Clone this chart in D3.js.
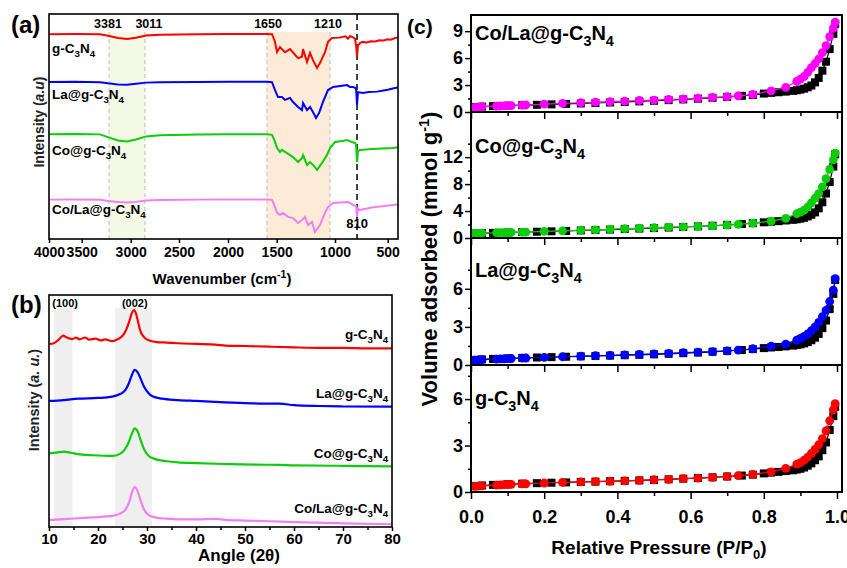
<!DOCTYPE html>
<html>
<head>
<meta charset="utf-8">
<script src="https://cdn.jsdelivr.net/npm/d3@7"></script>
<style>
body { margin: 0; background: #fff; }
svg { font-family: "Liberation Sans", Arial, sans-serif; font-weight: bold; }
</style>
</head>
<body>
<div id="chart"></div>
<script>
// ---------- (a) FTIR ----------
let irSamples = ["g-C3N4", "La@g-C3N4", "Co@g-C3N4", "Co/La@g-C3N4"];
let irTicks = [4000, 3500, 3000, 2500, 2000, 1500, 1000, 500];
let irRed = [[4000,91],[3600,91.1],[3313,91],[3232,90.3],[3130,89.3],[3038,88.9],[2945,89.4],[2842,90.4],[2697,90.8],[2300,91],[2000,91.1],[1600,91.1],[1548,91],[1520,88],[1497,83.1],[1472,85.3],[1429,83],[1386,84.4],[1317,80.4],[1283,81],[1274,84.4],[1240,78.7],[1214,82.7],[1189,79.5],[1154,76],[1129,78.2],[1086,83],[1060,87.6],[1026,89.3],[960,89.5],[900,90.1],[877,89],[858,90.2],[829,89.6],[810,89],[800,86],[791,81],[782,86],[763,87.1],[740,87.6],[700,87.3],[660,87.9],[620,87.8],[580,88.3],[540,88.2],[500,88.8],[470,88.6],[429,89.3],[400,89.6]];
let irBlue = [[4000,69.8],[3600,69.9],[3313,69.7],[3232,69.2],[3130,68.7],[3038,68.6],[2945,69],[2842,69.5],[2697,69.7],[2300,69.8],[2000,69.9],[1600,69.9],[1548,69.7],[1520,66.5],[1489,63.1],[1455,63.1],[1429,61.8],[1386,62.7],[1360,60.9],[1317,58.7],[1283,57.3],[1274,60.4],[1240,57.3],[1214,58.7],[1189,56.4],[1163,53.8],[1137,56],[1103,60.9],[1060,66.2],[1017,67.6],[950,68],[886,68.4],[858,67.6],[829,67.6],[800,67],[791,59.6],[782,65.3],[734,64.9],[680,65.3],[600,65.5],[540,66],[500,66.3],[429,67.1],[400,67.3]];
let irGreen = [[4000,46.6],[3600,46.7],[3313,46.5],[3232,45.3],[3130,43.8],[3038,43.3],[2945,44.2],[2842,45.6],[2697,46.1],[2300,46.4],[2000,46.6],[1600,46.6],[1548,46.3],[1520,43.5],[1497,40.4],[1472,38.7],[1455,39.6],[1412,38.2],[1386,37.3],[1360,36.4],[1317,34.2],[1283,36],[1274,37.3],[1240,32.9],[1214,34.2],[1189,32.9],[1154,30.7],[1111,33.8],[1069,37.3],[1043,40.4],[1000,43.1],[930,43.6],[886,44],[860,43.5],[839,43.1],[810,42.7],[800,42],[791,34.2],[782,39],[763,39.6],[650,40],[550,40.2],[449,40.4],[400,40.8]];
let irPink = [[4000,17.5],[3600,17.6],[3313,17.4],[3232,16.9],[3130,16.4],[3038,16.2],[2945,16.5],[2842,17.1],[2697,17.3],[2300,17.5],[2000,17.6],[1600,17.6],[1548,17.4],[1520,14.5],[1497,11.6],[1472,10.7],[1446,11.6],[1403,9.8],[1360,9.3],[1317,7.1],[1283,8.4],[1257,9.8],[1232,6.2],[1197,7.6],[1172,3.1],[1129,6.2],[1086,11.6],[1060,14.2],[1017,16],[950,16.2],[877,16.4],[850,15.8],[829,15.1],[800,14.8],[791,9.8],[782,13.5],[763,12.9],[650,14],[550,14.6],[449,15.1],[400,15.4]];
let irBands = [[3221, 2852], [1600, 1043]];
let irBandTop = 92;
let irBandText = ["3381", "3011", "1650", "1210"];
let irBandTextAt = [3232, 2811, 1589, 1060];
let irMarker = 791;
let irMarkerText = "810";
let irLabelLevel = [82.7, 62.2, 37.3, 11.1];

// ---------- (b) XRD ----------
let xrdSamples = ["g-C3N4", "La@g-C3N4", "Co@g-C3N4", "Co/La@g-C3N4"];
let xrdTicks = [10, 20, 30, 40, 50, 60, 70, 80];
let xrdMinor = [15, 25, 35, 45, 55, 65, 75];
let xrdRed = [[10,79.6],[11,79.9],[12,81.5],[12.9,83.2],[13.6,82.4],[14.7,81.7],[15.5,82.3],[16.3,81.6],[17.3,82.4],[18.2,81.5],[19.5,81.9],[20.5,81.1],[21.5,81.6],[22.9,80.8],[23.8,81.4],[24.5,82.2],[25.3,84],[25.9,86.5],[26.4,89.5],[26.9,93],[27.35,94.3],[27.8,92.5],[28.2,89],[28.6,85.5],[29.3,82.8],[30.2,81.3],[32,80.4],[34,80.2],[36.3,79.9],[40,79.6],[44,79.3],[46,78.9],[50,78.7],[55,78.4],[60,78.1],[65,77.9],[70,77.9],[75,77.7],[80,77.7]];
let xrdBlue = [[10,54.8],[13,55.2],[16,55.8],[20,56.1],[22.9,56.7],[24.5,57.8],[25.6,59.6],[26.3,62.5],[26.9,66],[27.5,68.3],[28.1,67.2],[28.7,64.5],[29.4,61],[30.2,58.5],[31.1,56.8],[33,55.8],[36.3,55.2],[40,54.8],[45.9,54.2],[50,53.9],[55,53.6],[57,53.6],[60,53],[65,52.6],[70,52.4],[80,52.3]];
let xrdGreen = [[10,32],[11.5,32.3],[13,32.8],[14.5,32.3],[15.9,31.7],[19,31.2],[22.9,30.9],[24.5,31.8],[25.4,33.5],[26.2,36.5],[26.9,40.5],[27.5,42.9],[28.1,41.5],[28.7,37.8],[29.4,33.8],[30.3,31],[31.7,29.5],[34,28.6],[36.3,28.1],[40,27.8],[45.9,27.4],[52,27.1],[57,27],[60,26.8],[70,26.6],[80,26.4]];
let xrdPink = [[10,3],[13,3.4],[15.9,3.8],[19,4.2],[22.9,4.8],[24.5,5.8],[25.6,7.6],[26.3,10.5],[26.9,14.8],[27.5,17.3],[28.1,15.5],[28.7,11.5],[29.4,7.6],[30.3,5.3],[31.7,4.2],[34,3.6],[36.3,3.3],[40,3.3],[44,3.5],[46,3.1],[50,2.8],[55,2.5],[60,2.1],[70,1.6],[80,1.2]];
let xrdBands = [[11, 14.8], [23.5, 31]];
let xrdBandTop = 95.2;
let xrdPlanes = ["(100)", "(002)"];
let xrdPlaneAt = [13.3, 27.5];
let xrdLabelLevel = [81.7, 56.1, 30, 6.1];

// ---------- (c) N2 isotherms ----------
let betTicks = [0, 0.2, 0.4, 0.6, 0.8, 1.0];
let betMinor = [0.1, 0.3, 0.5, 0.7, 0.9];
let adsP = [0.01,0.02,0.03,0.07,0.08,0.09,0.10,0.11,0.14,0.15,0.20,0.25,0.30,0.34,0.38,0.42,0.46,0.50,0.54,0.58,0.62,0.66,0.70,0.73,0.77,0.82,0.86,0.89,0.90,0.91,0.92,0.93,0.94,0.95,0.96,0.97,0.98,0.99,0.995];
let desP = [0.995,0.99,0.98,0.97,0.96,0.95,0.94,0.93,0.92,0.91,0.90,0.89,0.88,0.86,0.84,0.82,0.80,0.77,0.74,0.70,0.66,0.62,0.58,0.54,0.50,0.46,0.42,0.38,0.34,0.30,0.26,0.22,0.18,0.14,0.10,0.06,0.03,0.01];
let adsCoLa = [0.5,0.55,0.6,0.66,0.67,0.68,0.7,0.72,0.76,0.78,0.88,0.95,1.03,1.1,1.15,1.22,1.28,1.33,1.4,1.45,1.55,1.63,1.7,1.8,1.95,2.35,2.75,3.4,3.65,3.95,4.4,4.95,5.4,5.9,6.6,7.4,8.4,9.3,10.0];
let desCoLa = [9.8,8.7,7.0,5.6,4.6,3.8,3.3,2.95,2.75,2.6,2.5,2.42,2.35,2.27,2.2,2.13,2.05,1.9,1.8,1.68,1.58,1.48,1.4,1.32,1.25,1.18,1.12,1.06,1.0,0.95,0.9,0.85,0.8,0.76,0.7,0.65,0.6,0.55];
let adsCo = [0.68,0.7,0.72,0.78,0.79,0.8,0.81,0.82,0.86,0.88,0.98,1.05,1.15,1.22,1.3,1.38,1.45,1.53,1.6,1.66,1.74,1.8,1.92,2.02,2.2,2.5,2.9,3.6,3.85,4.15,4.6,5.2,5.9,6.6,7.6,8.8,10.2,11.6,12.6];
let desCo = [12.4,10.6,8.3,6.6,5.3,4.4,3.8,3.45,3.2,3.0,2.87,2.78,2.7,2.6,2.5,2.42,2.33,2.2,2.08,1.95,1.82,1.72,1.63,1.55,1.47,1.4,1.33,1.25,1.18,1.12,1.05,0.99,0.93,0.88,0.82,0.76,0.72,0.68];
let adsLa = [0.38,0.4,0.42,0.47,0.48,0.49,0.5,0.51,0.54,0.55,0.6,0.65,0.7,0.73,0.76,0.8,0.84,0.87,0.92,0.97,1.01,1.05,1.12,1.17,1.28,1.48,1.65,1.95,2.1,2.25,2.45,2.7,3.0,3.35,3.8,4.3,5.0,5.9,6.8];
let desLa = [6.7,5.6,4.4,3.5,2.9,2.45,2.15,1.95,1.8,1.7,1.62,1.57,1.53,1.47,1.42,1.38,1.33,1.25,1.18,1.11,1.04,0.98,0.93,0.88,0.84,0.8,0.77,0.74,0.71,0.68,0.65,0.62,0.59,0.56,0.52,0.48,0.44,0.4];
let adsG = [0.36,0.38,0.4,0.45,0.46,0.47,0.48,0.49,0.52,0.53,0.58,0.62,0.65,0.67,0.69,0.72,0.75,0.79,0.82,0.86,0.9,0.95,1.0,1.06,1.14,1.3,1.52,1.8,1.9,2.05,2.25,2.5,2.75,3.05,3.45,3.95,4.6,5.3,5.7];
let desG = [5.5,4.9,4.0,3.2,2.7,2.3,2.05,1.85,1.7,1.58,1.5,1.45,1.4,1.35,1.3,1.25,1.2,1.12,1.06,1.0,0.95,0.9,0.86,0.82,0.78,0.75,0.72,0.7,0.67,0.65,0.62,0.6,0.57,0.54,0.5,0.46,0.42,0.38];
let betSamples = ["Co/La@g-C3N4", "Co@g-C3N4", "La@g-C3N4", "g-C3N4"];
let betMax = [10.8, 18.7, 10.0, 8.2];
let betYTicks = [[0, 3, 6, 9], [0, 4, 8, 12], [0, 3, 6], [0, 3, 6]];
let betYMinor = [[1.5, 4.5, 7.5], [2, 6, 10, 14], [1.5, 4.5, 7.5], [1.5, 4.5, 7.5]];

let colorRed = "#ff0000";
let colorBlue = "#0000ff";
let colorGreen = "#0ccc0c";
let colorPink = "#f27ef2";
let colorMagenta = "#ff00ff";

let width = 847,
    height = 568;

let svg = d3.select("#chart")
    .append("svg")
    .attr("width", width)
    .attr("height", height);

// writes formula names with subscript digits
function chem(sel, str, size) {
    let parts = str.split(/(\d)/).filter(function(s) { return s !== ""; });
    let down = 0;
    sel.style("font-size", size + "px");
    parts.forEach(function(p) {
        if (/\d/.test(p)) {
            sel.append("tspan").attr("dy", size * 0.28 - down)
                .style("font-size", (size * 0.72) + "px").text(p);
            down = size * 0.28;
        } else {
            sel.append("tspan").attr("dy", -down).text(p);
            down = 0;
        }
    });
}

function styleAxis(g, size) {
    g.select(".domain").remove();
    g.selectAll("line").style("stroke", "#000").style("stroke-width", 1.5);
    g.selectAll("text")
        .style("font-size", size + "px")
        .style("font-weight", "bold")
        .style("font-family", '"Liberation Sans", Arial, sans-serif')
        .style("fill", "#000");
}

// ================= panel (a) =================
let xA = d3.scaleLinear()
    .domain([4000, 3500, 3000, 2500, 2000, 1500, 1000, 500, 400]) // axis is not evenly spaced in the figure
    .range([49, 81.7, 130.7, 179, 228, 276.7, 335, 387.7, 398]);
let yA = d3.scaleLinear().domain([0, 100]).range([239, 14]);
let gA = svg.append("g");
let bandFillA = ["#f4f9e6", "#fcebd7"];

irBands.forEach(function(b, i) {
    gA.append("rect")
        .attr("x", xA(b[0]))
        .attr("y", yA(irBandTop))
        .attr("width", xA(b[1]) - xA(b[0]))
        .attr("height", yA(0) - yA(irBandTop))
        .style("fill", bandFillA[i]);
    b.forEach(function(e) {
        gA.append("line")
            .attr("x1", xA(e)).attr("x2", xA(e))
            .attr("y1", yA(irBandTop)).attr("y2", yA(0))
            .style("stroke", "#c8c8c8").style("stroke-width", 1.2)
            .style("stroke-dasharray", "4,3");
    });
});

gA.append("line")
    .attr("x1", xA(irMarker)).attr("x2", xA(irMarker))
    .attr("y1", yA(100)).attr("y2", yA(0))
    .style("stroke", "#000").style("stroke-width", 1.5)
    .style("stroke-dasharray", "6,4");

let lineA = d3.line()
    .x(function(d) { return xA(d[0]); })
    .y(function(d) { return yA(d[1]); });

[irRed, irBlue, irGreen, irPink].forEach(function(s, i) {
    gA.append("path")
        .attr("d", lineA(s))
        .style("fill", "none")
        .style("stroke", [colorRed, colorBlue, colorGreen, colorPink][i])
        .style("stroke-width", 2);
});

irBandText.forEach(function(t, i) {
    gA.append("text")
        .attr("x", xA(irBandTextAt[i]))
        .attr("y", yA(93.8))
        .attr("text-anchor", "middle")
        .style("font-size", "12.5px")
        .text(t);
});
gA.append("text")
    .attr("x", xA(irMarker))
    .attr("y", yA(4.9))
    .attr("text-anchor", "middle")
    .style("font-size", "13px")
    .text(irMarkerText);

irSamples.forEach(function(s, i) {
    let t = gA.append("text")
        .attr("x", 52)
        .attr("y", yA(irLabelLevel[i]));
    chem(t, s, 13.5);
});

gA.append("rect")
    .attr("x", 49).attr("y", 14).attr("width", 349).attr("height", 225)
    .style("fill", "none").style("stroke", "#000").style("stroke-width", 1.6);

gA.append("g")
    .attr("transform", "translate(0,239)")
    .call(d3.axisBottom(xA).tickValues(irTicks).tickSize(4).tickPadding(4).tickFormat(d3.format("d")))
    .call(styleAxis, 14);

let tA = gA.append("text")
    .attr("x", 222).attr("y", 284)
    .attr("text-anchor", "middle")
    .style("font-size", "15px");
tA.append("tspan").text("Wavenumber (cm");
tA.append("tspan").attr("dy", -6).style("font-size", "10.5px").text("-1");
tA.append("tspan").attr("dy", 6).text(")");

let yTA = gA.append("text")
    .attr("transform", "translate(44,122) rotate(-90)")
    .attr("text-anchor", "middle")
    .style("font-size", "14px")
    .style("fill", "#222");
yTA.append("tspan").text("Intensity (");
yTA.append("tspan").style("font-style", "italic").text("a.u");
yTA.append("tspan").text(")");

svg.append("text").attr("x", 11).attr("y", 33).style("font-size", "24px").text("(a)");

// ================= panel (b) =================
let xB = d3.scaleLinear().domain([10, 80]).range([49, 392]);
let yB = d3.scaleLinear().domain([0, 100]).range([527, 297]);
let gB = svg.append("g");

xrdBands.forEach(function(b) {
    gB.append("rect")
        .attr("x", xB(b[0]))
        .attr("y", yB(xrdBandTop))
        .attr("width", xB(b[1]) - xB(b[0]))
        .attr("height", yB(0) - yB(xrdBandTop))
        .style("fill", "#efefef");
});

let lineB = d3.line()
    .curve(d3.curveMonotoneX)
    .x(function(d) { return xB(d[0]); })
    .y(function(d) { return yB(d[1]); });

[xrdRed, xrdBlue, xrdGreen, xrdPink].forEach(function(s, i) {
    gB.append("path")
        .attr("d", lineB(s))
        .style("fill", "none")
        .style("stroke", [colorRed, colorBlue, colorGreen, colorPink][i])
        .style("stroke-width", 2.2);
});

xrdPlanes.forEach(function(p, i) {
    gB.append("text")
        .attr("x", xB(xrdPlaneAt[i]))
        .attr("y", yB(95.8))
        .attr("text-anchor", "middle")
        .style("font-size", "11px")
        .text(p);
});

xrdSamples.forEach(function(s, i) {
    let t = gB.append("text")
        .attr("x", xB(79.2))
        .attr("y", yB(xrdLabelLevel[i]))
        .attr("text-anchor", "end");
    chem(t, s, 13.5);
});

gB.append("rect")
    .attr("x", 49).attr("y", 295).attr("width", 343).attr("height", 232)
    .style("fill", "none").style("stroke", "#000").style("stroke-width", 1.6);

gB.append("g")
    .attr("transform", "translate(0,527)")
    .call(d3.axisBottom(xB).tickValues(xrdTicks).tickSize(4).tickPadding(2))
    .call(styleAxis, 15);
gB.append("g")
    .attr("transform", "translate(0,527)")
    .call(d3.axisBottom(xB).tickValues(xrdMinor).tickSize(3).tickFormat(""))
    .call(styleAxis, 15);

gB.append("text")
    .attr("x", 239).attr("y", 561)
    .attr("text-anchor", "middle")
    .style("font-size", "17px")
    .text("Angle (2θ)");

let yTB = gB.append("text")
    .attr("transform", "translate(39,400) rotate(-90)")
    .attr("text-anchor", "middle")
    .style("font-size", "14.5px")
    .style("fill", "#222");
yTB.append("tspan").text("Intensity (");
yTB.append("tspan").style("font-style", "italic").text("a. u.");
yTB.append("tspan").text(")");

svg.append("text").attr("x", 11).attr("y", 313).style("font-size", "24px").text("(b)");

// ================= panel (c) =================
let xC = d3.scaleLinear().domain([0, 1]).range([471, 837]);
let cLeft = 471, cRight = 842;
let cTops = [15, 112, 238, 365, 492];
let cLabelDrop = [25, 41, 39, 40];
let gC = svg.append("g");
let adsSets = [adsCoLa, adsCo, adsLa, adsG];
let desSets = [desCoLa, desCo, desLa, desG];
let betColors = [colorMagenta, colorGreen, colorBlue, colorRed];

betSamples.forEach(function(name, i) {
    let top = cTops[i], bottom = cTops[i + 1];
    let y = d3.scaleLinear().domain([0, betMax[i]]).range([bottom, top]);
    let g = gC.append("g");

    let des = desP.map(function(p, j) { return [p, desSets[i][j]]; });
    let ads = adsP.map(function(p, j) { return [p, adsSets[i][j]]; });
    let line = d3.line()
        .x(function(d) { return xC(d[0]); })
        .y(function(d) { return y(d[1]); });

    g.append("path").attr("d", line(des))
        .style("fill", "none").style("stroke", "#000").style("stroke-width", 1.2);
    g.selectAll(".sq")
        .data(des)
        .enter()
        .append("rect")
        .attr("x", function(d) { return xC(d[0]) - 4; })
        .attr("y", function(d) { return y(d[1]) - 4; })
        .attr("width", 8).attr("height", 8)
        .style("fill", "#000");

    g.append("path").attr("d", line(ads))
        .style("fill", "none").style("stroke", betColors[i]).style("stroke-width", 1.2);
    g.selectAll(".dot")
        .data(ads)
        .enter()
        .append("circle")
        .attr("cx", function(d) { return xC(d[0]); })
        .attr("cy", function(d) { return y(d[1]); })
        .attr("r", 4.4)
        .style("fill", betColors[i]);

    let t = g.append("text").attr("x", 475).attr("y", top + cLabelDrop[i]);
    chem(t, name, 20);

    g.append("g")
        .attr("transform", "translate(" + cLeft + ",0)")
        .call(d3.axisLeft(y).tickValues(betYTicks[i]).tickSize(6).tickPadding(2))
        .call(styleAxis, 18);
    g.append("g")
        .attr("transform", "translate(" + cLeft + ",0)")
        .call(d3.axisLeft(y).tickValues(betYMinor[i].filter(function(v) { return v < betMax[i]; })).tickSize(3).tickFormat(""))
        .call(styleAxis, 18);

    let last = i === betSamples.length - 1;
    g.append("g")
        .attr("transform", "translate(0," + bottom + ")")
        .call(d3.axisBottom(xC).tickValues(betTicks).tickSize(7).tickPadding(11)
            .tickFormat(last ? d3.format(".1f") : ""))
        .call(styleAxis, 18);
    g.append("g")
        .attr("transform", "translate(0," + bottom + ")")
        .call(d3.axisBottom(xC).tickValues(betMinor).tickSize(4).tickFormat(""))
        .call(styleAxis, 18);

    g.append("line")
        .attr("x1", cLeft).attr("x2", cRight)
        .attr("y1", bottom).attr("y2", bottom)
        .style("stroke", "#000").style("stroke-width", 1.8);
});

gC.append("rect")
    .attr("x", cLeft).attr("y", 15).attr("width", cRight - cLeft).attr("height", 492 - 15)
    .style("fill", "none").style("stroke", "#000").style("stroke-width", 2);

let tC = gC.append("text")
    .attr("x", 659).attr("y", 554)
    .attr("text-anchor", "middle")
    .style("font-size", "19px");
tC.append("tspan").text("Relative Pressure (P/P");
tC.append("tspan").attr("dy", 5).style("font-size", "13px").text("0");
tC.append("tspan").attr("dy", -5).text(")");

let yTC = gC.append("text")
    .attr("transform", "translate(437,259) rotate(-90)")
    .attr("text-anchor", "middle")
    .style("font-size", "22px");
yTC.append("tspan").text("Volume adsorbed (mmol g");
yTC.append("tspan").attr("dy", -8).style("font-size", "14.5px").text("-1");
yTC.append("tspan").attr("dy", 8).text(")");

svg.append("text").attr("x", 407).attr("y", 34).style("font-size", "21px").text("(c)");
</script>
</body>
</html>
